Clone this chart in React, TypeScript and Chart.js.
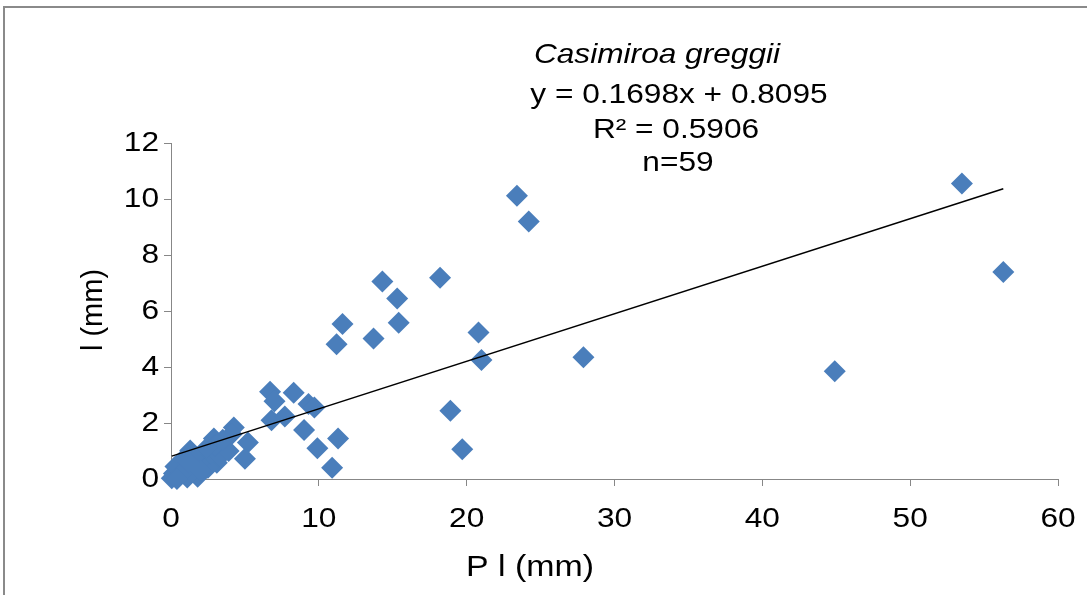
import React, { useEffect, useRef } from "react";
import { Chart, registerables } from "chart.js";

Chart.register(...registerables);

// Data
const xValues: number[] = [
  53.5, 56.3, 44.9, 27.9, 23.4, 24.2, 18.2, 14.3, 15.3, 15.4,
  11.6, 11.2, 13.7, 20.8, 21.0, 18.9, 19.7, 10.9, 9.9, 11.3,
  9.0, 6.7, 8.3, 7.0, 9.3, 9.7, 6.8, 7.7, 4.25, 5.2,
  5.0, 3.6, 2.9, 3.1, 2.5, 2.2, 1.3, 1.8, 1.5, 0.9,
  0.65, 0.2, 0.05, 1.1, 0.3, 0.5, 0.8, 1.0, 1.6, 2.0,
  2.7, 3.3, 3.9, 4.1, 3.0, 0.4, 1.2, 2.4, 3.5,
];
const yValues: number[] = [
  10.55, 7.39, 3.85, 4.35, 10.12, 9.2, 7.19, 7.05, 6.45, 5.58,
  5.54, 4.81, 5.02, 5.23, 4.25, 2.44, 1.06, 0.4, 1.1, 1.45,
  1.75, 3.12, 3.08, 2.78, 2.68, 2.55, 2.1, 2.23, 1.84, 1.3,
  0.72, 1.12, 1.45, 0.58, 0.4, 0.75, 1.02, 0.08, 0.45, 0.25,
  0.55, 0.2, 0.03, 0.05, 0.45, 0.1, 0.7, 0.35, 0.8, 0.3,
  0.9, 0.8, 1.0, 1.6, 1.2, 0.0, 0.6, 1.1, 1.4,
];
const xTicks: number[] = [0, 10, 20, 30, 40, 50, 60];
const yTicks: number[] = [0, 2, 4, 6, 8, 10, 12];
const trendSlope = [0.1698];
const trendIntercept = [0.8095];
const annotationLines: string[] = [
  "Casimiroa greggii",
  "y = 0.1698x + 0.8095",
  "R\u00B2 = 0.5906",
  "n=59",
];
const xTitle = "P l (mm)";
const yTitle = "l (mm)";

const W = 1087;
const H = 595;
const STRETCH = 1.13;

function drawText(
  ctx: CanvasRenderingContext2D,
  text: string,
  x: number,
  y: number,
  font: string,
  align: CanvasTextAlign,
  sx: number,
  rot = 0
) {
  ctx.save();
  ctx.translate(x, y);
  if (rot) ctx.rotate(rot);
  ctx.scale(sx, 1);
  ctx.font = font;
  ctx.fillStyle = "#000000";
  ctx.textAlign = align;
  ctx.textBaseline = "middle";
  ctx.fillText(text, 0, 0);
  ctx.restore();
}

const decorPlugin = {
  id: "decor",
  beforeDraw(chart: any) {
    const ctx: CanvasRenderingContext2D = chart.ctx;
    ctx.save();
    ctx.fillStyle = "#ffffff";
    ctx.fillRect(0, 0, W, H);
    ctx.strokeStyle = "#8a8a8a";
    ctx.lineWidth = 2;
    ctx.beginPath();
    ctx.moveTo(4, H + 2);
    ctx.lineTo(4, 7);
    ctx.lineTo(W + 2, 7);
    ctx.stroke();
    ctx.restore();
  },
  afterDraw(chart: any) {
    const ctx: CanvasRenderingContext2D = chart.ctx;
    const xs = chart.scales.x;
    const ys = chart.scales.y;
    const tickFont = "28px 'Liberation Sans', Arial, sans-serif";
    xTicks.forEach((v) => {
      drawText(ctx, String(v), xs.getPixelForValue(v), 519, tickFont, "center", STRETCH);
    });
    yTicks.forEach((v) => {
      drawText(ctx, String(v), 159, ys.getPixelForValue(v), tickFont, "right", STRETCH);
    });
    const titleFont = "30px 'Liberation Sans', Arial, sans-serif";
    drawText(ctx, xTitle, 530, 568, titleFont, "center", STRETCH);
    drawText(ctx, yTitle, 94, 310, "29px 'Liberation Sans', Arial, sans-serif", "center", 1, -Math.PI / 2);

    const annFont = "28px 'Liberation Sans', Arial, sans-serif";
    drawText(ctx, annotationLines[0], 657, 55, "italic " + annFont, "center", STRETCH);
    drawText(ctx, annotationLines[1], 679, 95, annFont, "center", STRETCH);
    drawText(ctx, annotationLines[2], 676, 130, annFont, "center", STRETCH);
    drawText(ctx, annotationLines[3], 678, 163, annFont, "center", STRETCH);
  },
};

export default function App() {
  const ref = useRef<HTMLCanvasElement | null>(null);

  useEffect(() => {
    if (!ref.current) return;
    const points = xValues.map((x, i) => ({ x, y: yValues[i] }));
    const xMin = Math.min(...xValues);
    const xMax = Math.max(...xValues);
    const trend = [
      { x: xMin, y: trendSlope[0] * xMin + trendIntercept[0] },
      { x: xMax, y: trendSlope[0] * xMax + trendIntercept[0] },
    ];
    const axisColor = "#878787";
    const chart = new Chart(ref.current, {
      type: "scatter",
      data: {
        datasets: [
          {
            type: "line",
            label: "trend",
            data: trend,
            borderColor: "#000000",
            borderWidth: 1.5,
            pointRadius: 0,
            order: 0,
          } as any,
          {
            type: "scatter",
            label: "I",
            data: points,
            pointStyle: "rectRot",
            pointRadius: 11,
            backgroundColor: "#4a7ebb",
            borderColor: "#4a7ebb",
            borderWidth: 0,
            order: 1,
            clip: false,
          } as any,
        ],
      },
      options: {
        responsive: false,
        animation: false,
        devicePixelRatio: 1,
        layout: { padding: { top: 143, right: 29, left: 0, bottom: 0 } },
        plugins: {
          legend: { display: false },
          tooltip: { enabled: false },
          title: { display: false },
        },
        scales: {
          x: {
            type: "linear",
            min: 0,
            max: 60,
            ticks: { display: false, stepSize: 10 },
            grid: {
              display: true,
              drawOnChartArea: false,
              drawTicks: true,
              tickLength: 7,
              color: axisColor,
            },
            border: { display: true, color: axisColor, width: 1 },
            afterFit: (s: any) => {
              s.height = 116;
            },
          },
          y: {
            type: "linear",
            min: 0,
            max: 12,
            ticks: { display: false, stepSize: 2 },
            grid: {
              display: true,
              drawOnChartArea: false,
              drawTicks: true,
              tickLength: 7,
              color: axisColor,
            },
            border: { display: true, color: axisColor, width: 1 },
            afterFit: (s: any) => {
              s.width = 171;
            },
          },
        },
      },
      plugins: [decorPlugin],
    });
    return () => chart.destroy();
  }, []);

  return (
    <div style={{ position: "absolute", left: 0, top: 0, width: W, height: H, background: "#fff" }}>
      <canvas ref={ref} width={W} height={H} style={{ display: "block", width: W, height: H }} />
    </div>
  );
}
